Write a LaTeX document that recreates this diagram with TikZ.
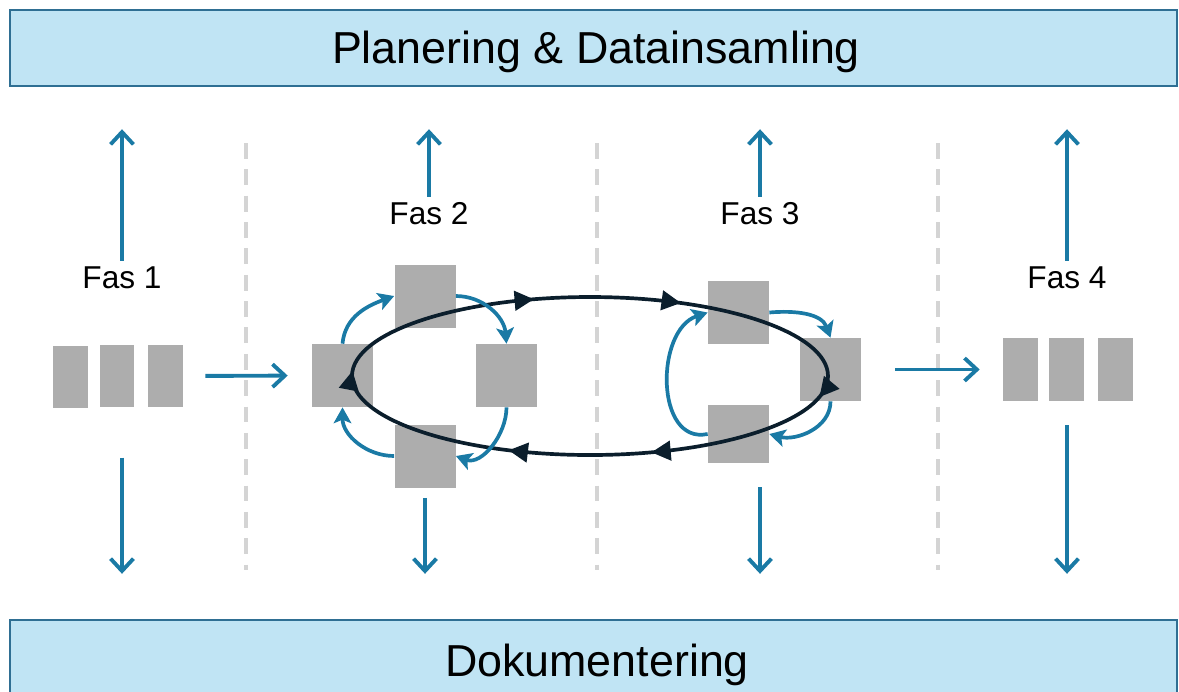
\documentclass[tikz,border=0pt]{standalone}
\usepackage{fontspec}
\setmainfont{Liberation Sans}
\usetikzlibrary{arrows.meta,decorations.markings}
\definecolor{bannerfill}{HTML}{C0E4F4}
\definecolor{bannerline}{HTML}{2F6F93}
\definecolor{flow}{HTML}{1A7AA5}
\definecolor{loopline}{HTML}{0B1E2C}
\definecolor{boxgray}{HTML}{ADADAD}
\definecolor{sepgray}{HTML}{D4D4D4}
\newcommand\looptip{\arrow{Triangle[length=11pt,width=11pt]}}
\tikzset{
  banner/.style={draw=bannerline, line width=1.4pt, fill=bannerfill, inner sep=0pt,
    minimum width=23.34cm},
  bannertext/.style={anchor=base, inner sep=0pt, font=\fontsize{25.5}{30}\selectfont},
  faslabel/.style={font=\fontsize{18}{22}\selectfont},
  blk/.style={fill=boxgray, inner sep=0pt, minimum width=1.22cm, minimum height=1.26cm},
  slim/.style={fill=boxgray, inner sep=0pt, minimum width=0.7cm, minimum height=1.25cm},
  flowarrow/.style={draw=flow, line width=2.2pt, -{Straight Barb[length=7pt,width=13pt]}},
  cyc/.style={draw=flow, line width=2.1pt, -{Stealth[length=9pt,width=10pt,inset=2pt]}},
  sep/.style={draw=sepgray, line width=2.2pt, dash pattern=on 9pt off 6pt}
}

\begin{document}
\begin{tikzpicture}[x=0.02cm,y=0.02cm]
	\useasboundingbox (0,0) rectangle (1179,-691);
	% banners
	\node[banner, minimum height=1.52cm] (top) at (593.5,-48) {};
	\node[banner, minimum height=1.64cm] (bot) at (593.5,-661) {};
	\node[bannertext] (toptext) at (596,-63) {Planering \& Datainsamling};
	\node[bannertext] (bottext) at (597,-676) {Dokumentering};
	% separators
	\foreach \x in {246,597,938}
		\draw[sep] (\x,-143) -- (\x,-570);
	% Fas 1
	\node[faslabel] (fas1) at (122,-278) {Fas 1};
	\node[slim] (b11) at (70.5,-377) {};
	\node[slim] (b12) at (117,-376) {};
	\node[slim] (b13) at (165.5,-376) {};
	% Fas 2
	\node[faslabel] (fas2) at (429,-214) {Fas 2};
	\node[blk] (L) at (342.5,-375.5) {};
	\node[blk] (T) at (425,-296) {};
	\node[blk] (R) at (506.5,-375.5) {};
	\node[blk] (B) at (425,-456) {};
	% Fas 3
	\node[faslabel] (fas3) at (760,-214) {Fas 3};
	\node[blk] (T3) at (738.5,-312.5) {};
	\node[blk] (R3) at (830.5,-369.5) {};
	\node[blk, minimum height=1.16cm] (B3) at (738.5,-434) {};
	% Fas 4
	\node[faslabel] (fas4) at (1067,-278) {Fas 4};
	\node[slim] (b41) at (1020.5,-369.5) {};
	\node[slim] (b42) at (1066.5,-369.5) {};
	\node[slim] (b43) at (1115.5,-369.5) {};
	% big loop
	\coordinate (orbit) at (590,-376);
	\draw[loopline, line width=2.1pt, postaction={decorate, decoration={markings,
		mark=at position 0.022 with {\looptip},
		mark=at position 0.192 with {\looptip},
		mark=at position 0.327 with {\looptip},
		mark=at position 0.505 with {\looptip},
		mark=at position 0.697 with {\looptip},
		mark=at position 0.836 with {\looptip}}}]
		(orbit) ++(238,0) arc[start angle=0, end angle=-360, x radius=238, y radius=79];
	% small cycles
	\draw[cyc] (L.north) to[out=85,in=200] (T.west);
	\draw[cyc] (T.east) to[out=0,in=95] (R.north);
	\draw[cyc] (R.south) to[out=-90,in=-20] (B.east);
	\draw[cyc] (B.west) to[out=180,in=-90] (L.south);
	\draw[cyc] (T3.east) to[out=5,in=110] (R3.north);
	\draw[cyc] (R3.south) to[out=-90,in=-15] (B3.east);
	\draw[cyc] (B3.west) .. controls (655,-445) and (655,-330) .. (T3.west);
	% phase to phase
	\draw[flowarrow, shorten <=0.44cm, shorten >=0.48cm] (b13.east) -- (L.west);
	\draw[flowarrow, shorten <=0.68cm, shorten >=0.46cm] (R3.east) -- (b41.west);
	% up to planning
	\draw[flowarrow, shorten >=0.84cm] (fas1) -- (fas1 |- top.south);
	\draw[flowarrow, shorten >=0.84cm] (fas2) -- (fas2 |- top.south);
	\draw[flowarrow, shorten >=0.84cm] (fas3) -- (fas3 |- top.south);
	\draw[flowarrow, shorten >=0.84cm] (fas4) -- (fas4 |- top.south);
	% down to documentation
	\draw[flowarrow, shorten <=1cm, shorten >=0.9cm] (fas1 |- b12.south) -- (fas1 |- bot.north);
	\draw[flowarrow, shorten <=0.2cm, shorten >=0.9cm] (B.south) -- (B |- bot.north);
	\draw[flowarrow, shorten <=0.48cm, shorten >=0.9cm] (fas3 |- B3.south) -- (fas3 |- bot.north);
	\draw[flowarrow, shorten <=0.48cm, shorten >=0.9cm] (fas4 |- b42.south) -- (fas4 |- bot.north);
\end{tikzpicture}
\end{document}
